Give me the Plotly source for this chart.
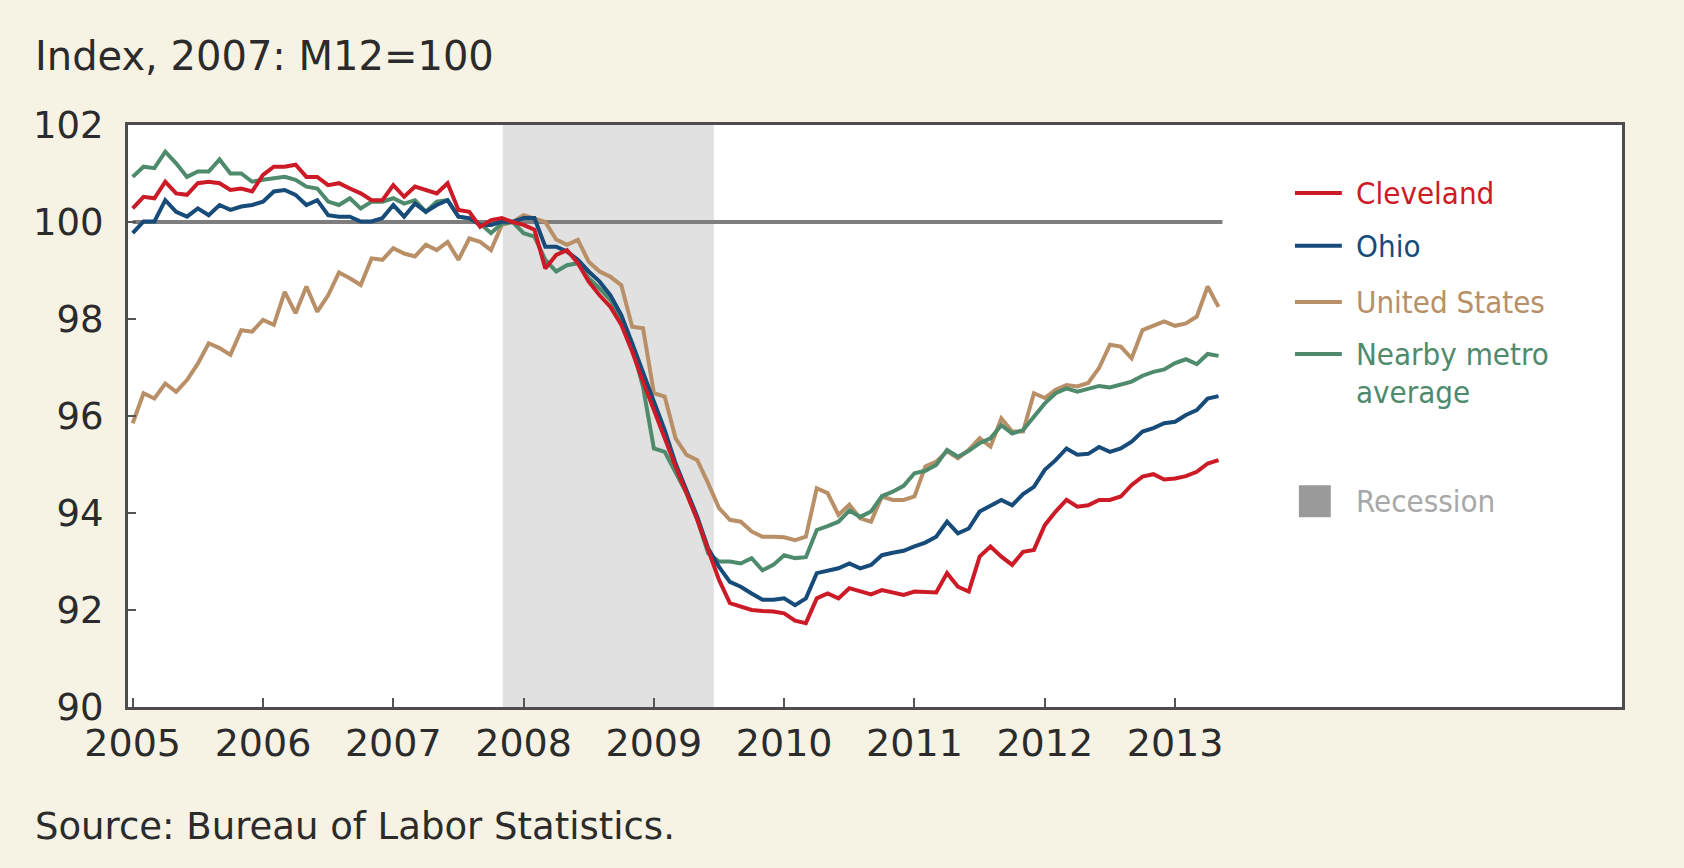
import plotly.graph_objects as go

# ---------------- data ----------------
start_year = 2005
years = [2005, 2006, 2007, 2008, 2009, 2010, 2011, 2012, 2013]
year_labels = [str(y) for y in years]

cleveland = [100.28, 100.52, 100.49, 100.83, 100.59, 100.56, 100.80, 100.83, 100.80, 100.66, 100.69, 100.63,
             100.97, 101.14, 101.14, 101.18, 100.93, 100.93, 100.76, 100.80, 100.69, 100.59, 100.45, 100.45,
             100.76, 100.52, 100.73, 100.66, 100.59, 100.80, 100.25, 100.21, 99.90, 100.04, 100.08, 100.00,
             99.94, 99.84, 99.04, 99.32, 99.42, 99.15, 98.77, 98.49, 98.25, 97.88, 97.33, 96.71,
             96.12, 95.57, 94.96, 94.41, 93.86, 93.24, 92.62, 92.14, 92.08, 92.00, 91.98, 91.97,
             91.93, 91.78, 91.73, 92.24, 92.34, 92.24, 92.45, 92.38, 92.32, 92.41, 92.36, 92.31,
             92.38, 92.38, 92.36, 92.76, 92.48, 92.38, 93.10, 93.31, 93.10, 92.93, 93.20, 93.24,
             93.75, 94.03, 94.27, 94.13, 94.16, 94.27, 94.27, 94.34, 94.58, 94.75, 94.80, 94.69,
             94.71, 94.76, 94.85, 95.02, 95.09]

ohio = [99.77, 100.01, 100.01, 100.45, 100.21, 100.11, 100.28, 100.14, 100.35, 100.25, 100.32, 100.35,
        100.42, 100.63, 100.66, 100.56, 100.35, 100.45, 100.14, 100.11, 100.11, 100.01, 100.01, 100.08,
        100.35, 100.11, 100.38, 100.21, 100.35, 100.45, 100.11, 100.08, 99.94, 99.94, 100.01, 100.00,
        100.08, 100.08, 99.49, 99.49, 99.39, 99.22, 98.98, 98.77, 98.49, 98.08, 97.50, 96.88,
        96.30, 95.71, 95.02, 94.47, 93.92, 93.27, 92.89, 92.58, 92.48, 92.34, 92.21, 92.21,
        92.24, 92.10, 92.24, 92.76, 92.82, 92.86, 92.96, 92.86, 92.93, 93.13, 93.18, 93.22,
        93.31, 93.39, 93.51, 93.82, 93.58, 93.68, 94.03, 94.16, 94.27, 94.16, 94.39, 94.54,
        94.89, 95.09, 95.33, 95.20, 95.22, 95.36, 95.26, 95.33, 95.47, 95.68, 95.75, 95.85,
        95.88, 96.02, 96.12, 96.36, 96.41]

united_states = [95.85, 96.47, 96.36, 96.67, 96.50, 96.74, 97.08, 97.50, 97.40, 97.26, 97.77, 97.74,
                 97.98, 97.88, 98.56, 98.12, 98.67, 98.15, 98.49, 98.96, 98.84, 98.70, 99.25, 99.22,
                 99.46, 99.35, 99.29, 99.53, 99.42, 99.59, 99.22, 99.66, 99.59, 99.42, 99.94, 100.00,
                 100.14, 100.08, 100.00, 99.64, 99.53, 99.63, 99.18, 98.98, 98.87, 98.70, 97.84, 97.81,
                 96.47, 96.40, 95.54, 95.20, 95.09, 94.61, 94.10, 93.86, 93.82, 93.62, 93.51, 93.51,
                 93.50, 93.44, 93.51, 94.51, 94.41, 93.96, 94.17, 93.89, 93.82, 94.34, 94.27, 94.27,
                 94.34, 94.96, 95.06, 95.27, 95.13, 95.30, 95.54, 95.37, 95.95, 95.68, 95.68, 96.47,
                 96.37, 96.54, 96.64, 96.61, 96.68, 96.99, 97.47, 97.43, 97.19, 97.77, 97.86, 97.95,
                 97.86, 97.91, 98.05, 98.67, 98.25]

nearby_metro = [100.93, 101.14, 101.11, 101.45, 101.21, 100.93, 101.04, 101.04, 101.29, 101.00, 101.00, 100.83,
                100.87, 100.90, 100.93, 100.87, 100.73, 100.69, 100.42, 100.35, 100.49, 100.28, 100.42, 100.42,
                100.49, 100.38, 100.45, 100.21, 100.42, 100.45, 100.11, 100.07, 99.97, 99.77, 99.97, 100.00,
                99.77, 99.70, 99.22, 98.98, 99.11, 99.15, 98.84, 98.63, 98.39, 98.01, 97.43, 96.60,
                95.33, 95.26, 94.85, 94.41, 93.86, 93.17, 93.00, 93.00, 92.96, 93.07, 92.82, 92.93,
                93.13, 93.07, 93.09, 93.65, 93.73, 93.82, 94.05, 93.92, 94.03, 94.35, 94.44, 94.56,
                94.82, 94.87, 94.99, 95.30, 95.16, 95.28, 95.44, 95.54, 95.81, 95.64, 95.71, 95.99,
                96.26, 96.47, 96.57, 96.50, 96.55, 96.62, 96.59, 96.65, 96.71, 96.83, 96.91, 96.96,
                97.09, 97.17, 97.07, 97.28, 97.24]

recession = [2007.84, 2009.46]     # shaded period (decimal years)
base_value = 100

# month positions as decimal years (Jan 2005 ... May 2013)
months = [start_year + i / 12 for i in range(len(cleveland))]

# ---------------- styles ----------------
RED = "#CC1A26"
BLUE = "#164B7A"
TAN = "#B88F66"
GREEN = "#4E8A6C"
SHADE = "#E0E1E0"
FRAME = "#4D4D4D"
TXT = "#2B2B2B"
BASE_FONT = "DejaVu Sans, Verdana, sans-serif"
LEG_FONT = "DejaVu Sans Condensed, Liberation Sans Narrow, Roboto Condensed, sans-serif"

series = [
    ("Cleveland", cleveland, RED),
    ("Ohio", ohio, BLUE),
    ("United States", united_states, TAN),
    ("Nearby metro average", nearby_metro, GREEN),
]

fig = go.Figure()

# draw order: US and Nearby underneath, Ohio, then Cleveland on top
for name, vals, col in [series[2], series[3], series[1], series[0]]:
    fig.add_trace(go.Scatter(x=months, y=vals, mode="lines", name=name,
                             line=dict(color=col, width=4), showlegend=False,
                             hovertemplate="%{y:.2f}<extra>" + name + "</extra>"))

# recession shading
fig.add_shape(type="rect", xref="x", yref="y", x0=recession[0], x1=recession[1], y0=90, y1=102,
              fillcolor=SHADE, line=dict(width=0), layer="below")
# base line at 100
fig.add_shape(type="line", xref="x", yref="y", x0=months[0], x1=months[-1] + 0.03,
              y0=base_value, y1=base_value, line=dict(color="#7E7E7E", width=4), layer="below")

# ---------------- legend (manual) ----------------
leg_x0, leg_x1, leg_tx = 2013.92, 2014.28, 2014.37
leg_rows = [("Cleveland", RED, 100.60, True), ("Ohio", BLUE, 99.51, True),
            ("United States", TAN, 98.35, True), ("Nearby metro", GREEN, 97.28, True),
            ("average", GREEN, 96.49, False)]
for label, col, yv, with_line in leg_rows:
    if with_line:
        fig.add_shape(type="line", xref="x", yref="y", x0=leg_x0, x1=leg_x1, y0=yv, y1=yv,
                      line=dict(color=col, width=4))
    fig.add_annotation(x=leg_tx, y=yv, xref="x", yref="y", text=label, showarrow=False,
                       xanchor="left", yanchor="middle", align="left",
                       font=dict(family=LEG_FONT, size=31, color=col))
fig.add_shape(type="rect", xref="x", yref="y", x0=2013.95, x1=2014.195, y0=93.91, y1=94.57,
              fillcolor="#9A9A9A", line=dict(width=0))
fig.add_annotation(x=leg_tx, y=94.24, xref="x", yref="y", text="Recession", showarrow=False,
                   xanchor="left", yanchor="middle", font=dict(family=LEG_FONT, size=31, color="#A8A8A8"))

# ---------------- titles ----------------
fig.add_annotation(x=-0.0635, y=1.1186, xref="paper", yref="paper", text="Index, 2007: M12=100",
                   showarrow=False, xanchor="left", yanchor="middle",
                   font=dict(family=BASE_FONT, size=40, color=TXT))
fig.add_annotation(x=-0.0635, y=-0.205, xref="paper", yref="paper", text="Source: Bureau of Labor Statistics.",
                   showarrow=False, xanchor="left", yanchor="middle",
                   font=dict(family=BASE_FONT, size=37, color=TXT))

fig.update_layout(
    width=1684, height=868,
    margin=dict(l=128, r=62, t=125, b=161),
    paper_bgcolor="#F6F2E4", plot_bgcolor="#FFFFFF",
    showlegend=False,
    font=dict(family=BASE_FONT, color=TXT),
)
fig.update_xaxes(range=[2004.964, 2016.43], tickvals=years, ticktext=year_labels,
                 ticks="inside", ticklen=9, tickwidth=2, tickcolor="#555555",
                 showgrid=False, zeroline=False, showline=True, linecolor=FRAME, linewidth=3,
                 mirror=True, ticklabelstandoff=0,
                 tickfont=dict(family=BASE_FONT, size=38, color=TXT))
fig.update_yaxes(range=[90, 102], tickvals=[90, 92, 94, 96, 98, 100, 102],
                 ticks="inside", ticklen=8, tickwidth=2, tickcolor="#555555",
                 showgrid=False, zeroline=False, showline=True, linecolor=FRAME, linewidth=3,
                 mirror=True, ticklabelstandoff=14,
                 tickfont=dict(family=BASE_FONT, size=37, color=TXT))

fig.write_html("out.html", config={"displayModeBar": False},
               post_script="document.body.style.margin='0px';document.body.style.padding='0px';")
